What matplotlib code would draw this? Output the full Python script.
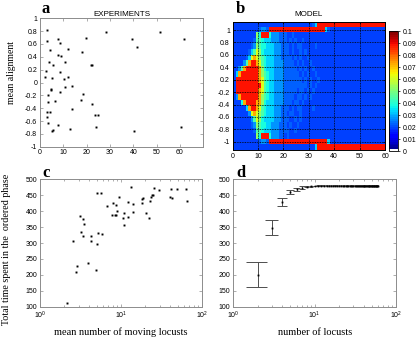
import numpy as np
import matplotlib
matplotlib.use("Agg")
import matplotlib.pyplot as plt
from matplotlib.colors import ListedColormap

plt.rcParams['font.family'] = ['Liberation Sans', 'DejaVu Sans']
plt.rcParams['mathtext.fontset'] = 'custom'
plt.rcParams['mathtext.rm'] = 'Liberation Sans'

SERIF = ['Liberation Serif', 'DejaVu Serif']

# panel a: experiments, mean alignment vs number of locusts
a_x = [3.0, 2.9, 7.6, 8.4, 19.7, 28.1, 39.3, 41.4, 51.3, 61.9, 4.1, 12.1, 7.6, 9.1, 17.9,
       4.0, 5.7, 10.7, 22.0, 22.4, 2.4, 8.4, 2.0, 5.0, 12.0, 10.4, 4.9, 4.8, 10.6, 13.7,
       3.3, 8.7, 18.4, 3.3, 6.6, 17.6, 22.1, 3.0, 4.3, 13.7, 23.7, 24.9, 3.0, 3.3, 7.9,
       23.9, 12.9, 5.7, 5.0, 40.3, 60.5]
a_y = [0.82, 0.65, 0.67, 0.62, 0.69, 0.79, 0.68, 0.56, 0.78, 0.68, 0.51, 0.52, 0.43, 0.42, 0.47,
       0.32, 0.28, 0.32, 0.27, 0.27, 0.18, 0.17, 0.085, 0.075, 0.085, 0.05, -0.10, -0.12, -0.07, -0.055,
       -0.20, -0.15, -0.18, -0.30, -0.29, -0.28, -0.34, -0.46, -0.46, -0.42, -0.51, -0.51, -0.54, -0.63, -0.66,
       -0.70, -0.72, -0.74, -0.76, -0.75, -0.69]

# panel b: model, probability map (one char per cell, rows top -> bottom, N = 1..60)
b_levels = {'b': 0.019, '1': 0.023, '2': 0.028, '3': 0.033, '4': 0.038, '5': 0.045,
            '6': 0.053, '7': 0.061, '8': 0.072, 'R': 0.088}
b_rows = [
    "bbbbbbbbbb bbbbbbbbbb bbbbbbbbbb b13RRRRRRR RRRRRRRRRR RRRRRRRRRR",
    "bbbbbbbbbb 1221RRRRRR RRRRRRRRRR RRRRRR31bb bbbbbbbbbb bbbbbbbbbb",
    "bbbbbbbbb6 4RRR422211 1bb1bbbbbb bbbbbbbbbb bbbbbbbbbb bbbbbbbbbb",
    "bbbbbbbb15 5433322211 1b1b1bb1bb bbbbbbbbbb bbbbbbbbbb bbbbbbbbbb",
    "bbbbbbb126 5443332221 11b1b11bbb bb1bbbbbbb bbbbbbbbbb bbbbbbbbbb",
    "bbbbbb1357 6433332221 11b1bb1b1b bbbbbbbbbb bbbbbbbbbb bbbbbbbbbb",
    "bbbbb13787 6543332221 111b1b1bb1 bbbbbbbbbb bbbbbbbbbb bbbbbbbbbb",
    "bbbb258RR8 7543332222 1111b1b1bb 1bbbbbbbbb bbbbbbbbbb bbbbbbbbbb",
    "bb258RRRRR 8643332222 11111b1b1b b1bbbbbbbb bbbbbbbbbb bbbbbbbbbb",
    "b38RRRRRRR 8654332222 111111b1b1 bb1bbbbbbb bbbbbbbbbb bbbbbbbbbb",
    "bRRRRRRRRR 8754332222 1111111b1b 1bb1bbbbbb bbbbbbbbbb bbbbbbbbbb",
    "bRRRRRRRRR R754332222 111111111b 1b1bbbbbbb bbbbbbbbbb bbbbbbbbbb",
    "bRRRRRRRRR 8754332222 11111b11b1 b1bbbbbbbb bbbbbbbbbb bbbbbbbbbb",
    "b28RRRRRRR 8654332222 1111b11b1b 1bbbbbbbbb bbbbbbbbbb bbbbbbbbbb",
    "bbb48RRRR8 8643332222 111b11b1bb bbbbbbbbbb bbbbbbbbbb bbbbbbbbbb",
    "bbbbb38RR8 7543332221 11b1b11bbb b1bbbbbbbb bbbbbbbbbb bbbbbbbbbb",
    "bbbbbb2787 6543332221 1b11bb1bbb bbbbbbbbbb bbbbbbbbbb bbbbbbbbbb",
    "bbbbbbb257 6433332221 11bb1b1bbb bbbbbbbbbb bbbbbbbbbb bbbbbbbbbb",
    "bbbbbbb126 5443322211 1b1bb1bbbb bbbbbbbbbb bbbbbbbbbb bbbbbbbbbb",
    "bbbbbbbb15 5433322211 11bb1bbbbb bbbbbbbbbb bbbbbbbbbb bbbbbbbbbb",
    "bbbbbbbbb6 4RRR422211 b1bbbbbbbb bbbbbbbbbb bbbbbbbbbb bbbbbbbbbb",
    "bbbbbbbbbb 1221RRRRRR RRRRRRRRRR RRRRRRR3bb bbbbbbbbbb bbbbbbbbbb",
    "bbbbbbbbbb bbbbbbbbbb bbbbbbbbbb bb3RRRRRRR RRRRRRRRRR RRRRRRRRRR",
]
b_ylabels = ['1', '0.8', '0.6', '0.4', '0.2', '-0.2', '-0.4', '-0.6', '-0.8', '-1']
cb_labels = ['0', '0.01', '0.02', '0.03', '0.04', '0.05', '0.06', '0.07', '0.08', '0.09', '0.1']

# panel c: experiments, ordered-phase time vs mean number of moving locusts
c_x = [2.13, 2.58, 2.76, 2.86, 3.12, 3.43, 3.49, 3.21, 3.43, 3.88, 4.23, 4.23, 4.87, 5.0, 5.25,
       5.77, 5.1, 5.7, 6.7, 7.9, 9.45, 7.8, 8.4, 8.6, 8.75, 8.9, 10.7, 11.0, 10.9, 12.3,
       12.3, 13.3, 13.9, 13.9, 18.0, 18.9, 18.3, 20.1, 22.3, 22.8, 23.2, 24.4, 24.6, 25.8, 29.1,
       41.3, 40.4, 43.0, 49.4, 62.8, 64.5]
c_y = [111, 306, 210, 228, 385, 374, 360, 335, 322, 236, 322, 306, 215, 296, 332,
       327, 458, 458, 416, 427, 444, 388, 388, 388, 420, 400, 379, 393, 357, 428,
       383, 477, 422, 398, 438, 440, 425, 393, 379, 431, 445, 450, 452, 474, 466,
       470, 445, 440, 470, 471, 432]

# panel d: model, ordered-phase time vs number of locusts
d_n = list(range(2, 61))
d_mean = [200, 348, 429, 459, 469, 474, 477, 478, 479] + [480] * 50
d_err = [39, 24, 13, 6.5, 4.5, 3.5, 2.5, 2, 1.5] + [1.2] * 50

W, H = 419, 337
fig = plt.figure(figsize=(W / 100, H / 100), dpi=100)

def box(l, t, r, b):
    return [l / W, 1 - b / H, (r - l) / W, (b - t) / H]

def style(ax, col='0.55'):
    ax.tick_params(which='both', direction='in', top=True, right=True,
                   labelsize=5, color=col, width=0.5, pad=2)
    ax.tick_params(which='major', length=2)
    ax.tick_params(which='minor', length=1.2)
    for s in ax.spines.values():
        s.set_color(col)
        s.set_linewidth(0.7)

# a
ax = fig.add_axes(box(40, 18.3, 203.3, 146.7))
ax.plot(a_x, a_y, 's', color='k', markersize=1.4, markeredgewidth=0)
ax.set_xlim(0, 70)
ax.set_ylim(-1, 1)
ax.set_xticks(range(0, 70, 10))
ax.set_yticks(np.round(np.arange(-1, 1.01, 0.2), 1))
ax.set_yticklabels(['-1', '-0.8', '-0.6', '-0.4', '-0.2', '0', '0.2', '0.4', '0.6', '0.8', '1'])
style(ax)
ax.set_title('EXPERIMENTS', fontsize=5.8, pad=2)
fig.text(12 / W, 1 - 72 / H, 'mean alignment', rotation=90, family=SERIF,
         fontsize=7, ha='center', va='center')

# b
vals = np.array([[b_levels[ch] for ch in r.replace(' ', '')] for r in b_rows])
jet = plt.cm.jet(np.linspace(0, 1, 64))
jet[0] = [1, 1, 1, 1]
cmap = ListedColormap(jet)
ax = fig.add_axes(box(232.7, 21.7, 385, 150.2))
im = ax.imshow(vals, extent=(0, 60, -1.15, 1.15), aspect='auto', cmap=cmap,
               vmin=0, vmax=0.1, interpolation='nearest')
ax.set_xlim(0, 60)
ax.set_ylim(-1.15, 1.15)
ax.set_xticks(range(0, 61, 10))
ax.set_yticks(np.linspace(1, -1, 10))
ax.set_yticklabels(b_ylabels)
ax.grid(True, color='k', linestyle=(0, (1, 1)), linewidth=0.6)
style(ax, col='k')
ax.tick_params(length=1.5)
ax.set_title('MODEL', fontsize=5.8, pad=4)
cax = fig.add_axes(box(389, 31, 398.3, 151))
cb = fig.colorbar(im, cax=cax, ticks=np.linspace(0, 0.1, 11))
cb.ax.set_yticklabels(cb_labels)
cb.ax.tick_params(labelsize=5, length=1.5, width=0.5, pad=2)
cb.outline.set_linewidth(0.6)

# c
ax = fig.add_axes(box(40, 179.3, 202, 306.7))
ax.plot(c_x, c_y, 's', color='k', markersize=1.4, markeredgewidth=0)
ax.set_xscale('log')
ax.set_xlim(1, 100)
ax.set_ylim(100, 500)
ax.set_yticks(range(100, 501, 50))
style(ax)
ax.set_xlabel('mean number of moving locusts', family=SERIF, fontsize=7.5, labelpad=5)
fig.text(7 / W, 1 - 249 / H, 'Total time spent in the  ordered phase', rotation=90,
         family=SERIF, fontsize=7.2, ha='center', va='center')

# d
ax = fig.add_axes(box(233.3, 179.3, 396, 306.7))
ax.errorbar(d_n, d_mean, yerr=d_err, fmt='none', ecolor='0.3', elinewidth=0.7)
ax.hlines(np.array(d_mean) + np.array(d_err), np.array(d_n) - 0.57, np.array(d_n) + 0.57,
          color='0.3', linewidth=0.7)
ax.hlines(np.array(d_mean) - np.array(d_err), np.array(d_n) - 0.57, np.array(d_n) + 0.57,
          color='0.3', linewidth=0.7)
ax.plot(d_n, d_mean, 's', color='k', markersize=1.3, markeredgewidth=0)
ax.set_xscale('log')
ax.set_xlim(1, 100)
ax.set_ylim(100, 500)
ax.set_yticks(range(100, 501, 50))
style(ax)
ax.set_xlabel('number of locusts', family=SERIF, fontsize=7.5, labelpad=5)

# panel letters
for x, y, t in [(46, 9, 'a'), (240, 9, 'b'), (46, 173, 'c'), (241, 173, 'd')]:
    fig.text(x / W, 1 - y / H, t, family=SERIF, fontweight='bold', fontsize=12,
             ha='center', va='center')

fig.savefig('out.png', dpi=100)
